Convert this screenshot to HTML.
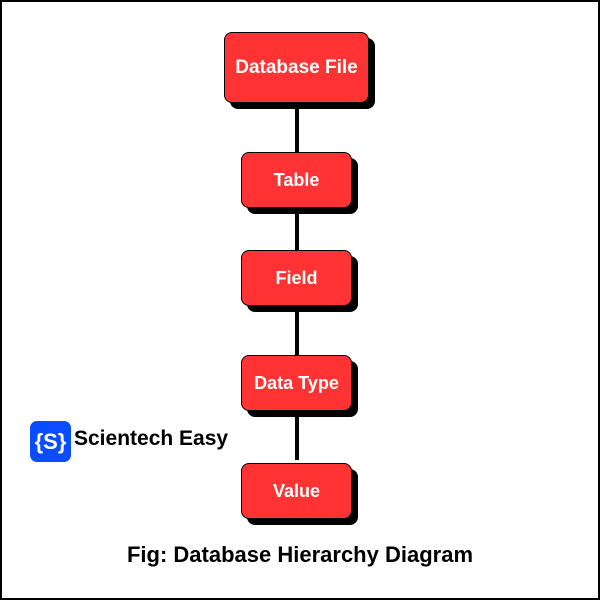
<!DOCTYPE html>
<html><head><style>
body{margin:0;width:600px;height:600px;overflow:hidden;background:#fff;font-family:"Liberation Sans",sans-serif}
.frame{position:absolute;left:0;top:0;width:596px;height:596px;border:2px solid #000}
.b{position:absolute;background:#ff3333;border:1px solid #000;border-radius:8px;box-shadow:6px 6px 0 #000;color:#fff;font-weight:bold;font-size:18px;display:flex;align-items:center;justify-content:center;box-sizing:border-box}
.l{position:absolute;left:295px;width:4px;background:#000}
</style></head><body>
<div class="frame"></div>
<div class="l" style="top:100px;height:360px"></div>
<div class="b" style="left:224px;top:32px;width:145px;height:71px;font-size:19px">Database File</div>
<div class="b" style="left:241px;top:152px;width:111px;height:56px">Table</div>
<div class="b" style="left:241px;top:250px;width:111px;height:56px">Field</div>
<div class="b" style="left:241px;top:355px;width:111px;height:56px">Data Type</div>
<div class="b" style="left:241px;top:463px;width:111px;height:56px">Value</div>
<div style="position:absolute;left:30px;top:421px;width:41px;height:41px;background:#0a4cff;border-radius:7px;color:#fff;font-weight:bold;font-size:22px;display:flex;align-items:center;justify-content:center">{S}</div>
<div style="position:absolute;left:74px;top:427px;font-weight:bold;font-size:21px;color:#000">Scientech Easy</div>
<div style="position:absolute;left:0;width:600px;top:542px;text-align:center;font-weight:bold;font-size:22px;color:#000">Fig: Database Hierarchy Diagram</div>
</body></html>
